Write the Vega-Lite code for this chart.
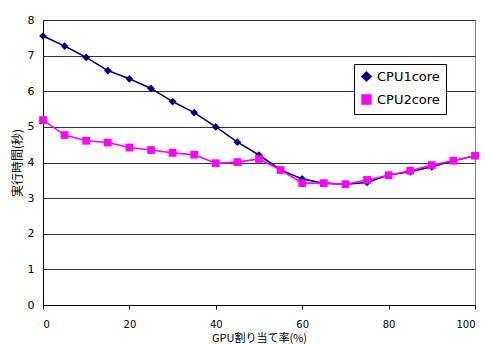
{
  "$schema": "https://vega.github.io/schema/vega-lite/v6.json",
  "width": 432,
  "height": 285,
  "autosize": {"type": "none"},
  "padding": {"left": 43, "top": 20, "right": 11, "bottom": 39},
  "background": "white",
  "config": {
    "font": "Noto Sans CJK JP",
    "view": {"stroke": "#888888", "strokeWidth": 1},
    "axis": {"labelFont": "DejaVu Sans", "titleFont": "Noto Sans CJK JP", "labelColor": "#000", "titleColor": "#000", "labelFontSize": 11, "titleFontSize": 11, "titleFontWeight": "normal", "domainColor": "#000", "tickColor": "#000"}
  },
  "data": {
    "values": [
      {"x": 0, "s": "CPU1core", "y": 7.55}, {"x": 5, "s": "CPU1core", "y": 7.27}, {"x": 10, "s": "CPU1core", "y": 6.95}, {"x": 15, "s": "CPU1core", "y": 6.58}, {"x": 20, "s": "CPU1core", "y": 6.35}, {"x": 25, "s": "CPU1core", "y": 6.08}, {"x": 30, "s": "CPU1core", "y": 5.71}, {"x": 35, "s": "CPU1core", "y": 5.40}, {"x": 40, "s": "CPU1core", "y": 5.0}, {"x": 45, "s": "CPU1core", "y": 4.57}, {"x": 50, "s": "CPU1core", "y": 4.21}, {"x": 55, "s": "CPU1core", "y": 3.79}, {"x": 60, "s": "CPU1core", "y": 3.54}, {"x": 65, "s": "CPU1core", "y": 3.42}, {"x": 70, "s": "CPU1core", "y": 3.39}, {"x": 75, "s": "CPU1core", "y": 3.44}, {"x": 80, "s": "CPU1core", "y": 3.65}, {"x": 85, "s": "CPU1core", "y": 3.74}, {"x": 90, "s": "CPU1core", "y": 3.88}, {"x": 95, "s": "CPU1core", "y": 4.05}, {"x": 100, "s": "CPU1core", "y": 4.19},
      {"x": 0, "s": "CPU2core", "y": 5.19}, {"x": 5, "s": "CPU2core", "y": 4.77}, {"x": 10, "s": "CPU2core", "y": 4.61}, {"x": 15, "s": "CPU2core", "y": 4.56}, {"x": 20, "s": "CPU2core", "y": 4.42}, {"x": 25, "s": "CPU2core", "y": 4.35}, {"x": 30, "s": "CPU2core", "y": 4.27}, {"x": 35, "s": "CPU2core", "y": 4.22}, {"x": 40, "s": "CPU2core", "y": 3.98}, {"x": 45, "s": "CPU2core", "y": 4.01}, {"x": 50, "s": "CPU2core", "y": 4.10}, {"x": 55, "s": "CPU2core", "y": 3.79}, {"x": 60, "s": "CPU2core", "y": 3.42}, {"x": 65, "s": "CPU2core", "y": 3.42}, {"x": 70, "s": "CPU2core", "y": 3.39}, {"x": 75, "s": "CPU2core", "y": 3.51}, {"x": 80, "s": "CPU2core", "y": 3.64}, {"x": 85, "s": "CPU2core", "y": 3.77}, {"x": 90, "s": "CPU2core", "y": 3.93}, {"x": 95, "s": "CPU2core", "y": 4.05}, {"x": 100, "s": "CPU2core", "y": 4.19}
    ]
  },
  "encoding": {
    "x": {"field": "x", "type": "quantitative", "scale": {"domain": [0, 100], "nice": false, "zero": false}, "axis": {"values": [0, 20, 40, 60, 80, 100], "grid": false, "title": "GPU割り当て率(%)", "labelFontSize": 10, "tickSize": 4, "labelPadding": 10, "labelBaseline": "top", "titlePadding": 3, "titleBaseline": "top"}},
    "y": {"field": "y", "type": "quantitative", "scale": {"domain": [0, 8], "nice": false}, "axis": {"values": [0, 1, 2, 3, 4, 5, 6, 7, 8], "grid": true, "gridColor": "#333", "gridWidth": 1, "title": "実行時間(秒)", "titleFontSize": 12, "tickSize": 0, "labelPadding": 9, "titlePadding": 3}},
    "color": {"field": "s", "type": "nominal", "scale": {"domain": ["CPU1core", "CPU2core"], "range": ["#000080", "#FF00FF"]},
      "legend": {"title": null, "orient": "none", "legendX": 311, "legendY": 44, "fillColor": "white", "strokeColor": "#000", "padding": 6, "labelFontSize": 13, "labelFont": "DejaVu Sans", "symbolSize": 70, "symbolStrokeWidth": 2, "rowPadding": 6, "labelLimit": 200}},
    "shape": {"field": "s", "type": "nominal", "scale": {"domain": ["CPU1core", "CPU2core"], "range": ["diamond", "square"]}}
  },
  "layer": [
    {"mark": {"type": "line", "strokeWidth": 1.6}},
    {"mark": {"type": "point", "filled": true, "size": 60, "opacity": 1}}
  ]
}
